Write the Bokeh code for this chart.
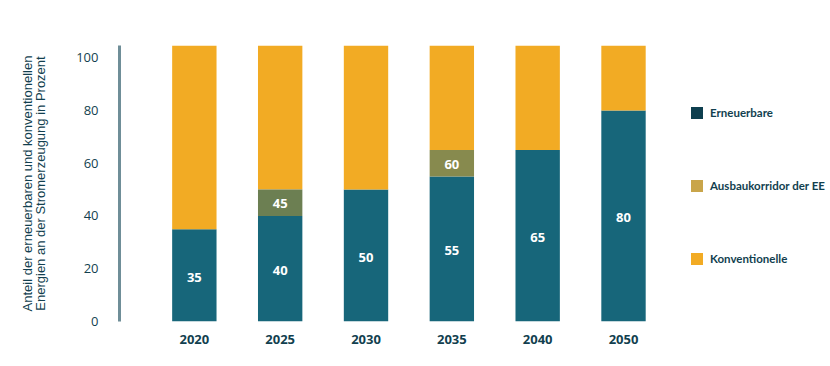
from bokeh.plotting import figure
from bokeh.models import ColumnDataSource, Range1d, FixedTicker, Legend, LegendItem
from bokeh.embed import file_html
from bokeh.resources import INLINE
from bokeh.core.properties import value

# ---- data ----
years = ["2020", "2025", "2030", "2035", "2040", "2050"]
erneuerbare = [35, 40, 50, 55, 65, 80]
korridor_oben = [None, 50, None, 65, None, None]   # upper edge of EE corridor
korridor_label = [None, 45, None, 60, None, None]
bar_top = 104.6                                      # top of drawn bars
y_ticks = [0, 20, 40, 60, 80, 100]
legend_labels = ["Erneuerbare", "Ausbaukorridor der EE", "Konventionelle"]

# ---- styles ----
TEAL = "#17667a"
ORANGE = "#f2ab24"
OLIVE = {"2025": "#6c7f52", "2035": "#878a4e"}
LEG_COLORS = ["#0e3f4f", "#c9a54a", "#f2ab24"]
DARK = "#123f4f"
FONT = "Open Sans"

xs = list(range(len(years)))
konv_bottom = [k if k is not None else e for e, k in zip(erneuerbare, korridor_oben)]

p = figure(width=828, height=364, output_backend="svg", toolbar_location=None,
           x_range=Range1d(-0.872, 7.365), y_range=Range1d(0, bar_top),
           min_border_left=119, min_border_right=2, min_border_top=45,
           min_border_bottom=43)
p.outline_line_color = None
p.background_fill_color = "white"
p.xgrid.visible = False
p.ygrid.visible = False

W = 0.517
teal_src = ColumnDataSource(dict(x=xs, top=erneuerbare))
p.vbar(x="x", bottom=0, top="top", width=W, source=teal_src,
       fill_color=TEAL, line_color=None)

konv_src = ColumnDataSource(dict(x=xs, bottom=konv_bottom, top=[bar_top] * len(xs)))
p.vbar(x="x", bottom="bottom", top="top", width=W, source=konv_src,
       fill_color=ORANGE, line_color=None)

kx, kb, kt, kc = [], [], [], []
for i, (y, e, k) in enumerate(zip(years, erneuerbare, korridor_oben)):
    if k is not None:
        kx.append(i); kb.append(e); kt.append(k); kc.append(OLIVE[y])
korr_src = ColumnDataSource(dict(x=kx, bottom=kb, top=kt, color=kc))
p.vbar(x="x", bottom="bottom", top="top", width=W, source=korr_src,
       fill_color="color", line_color=None)

# value labels
lab_src = ColumnDataSource(dict(x=xs, y=[e / 2 for e in erneuerbare],
                                t=[str(e) for e in erneuerbare]))
p.text(x="x", y="y", text="t", source=lab_src, text_color="white",
       text_font=value(FONT), text_font_size="13px", text_font_style="bold",
       text_align="center", text_baseline="middle", y_offset=2)
klx, kly, klt = [], [], []
for i, (e, k, l) in enumerate(zip(erneuerbare, korridor_oben, korridor_label)):
    if l is not None:
        klx.append(i); kly.append((e + k) / 2); klt.append(str(l))
p.text(x=klx, y=kly, text=klt, text_color="white",
       text_font=value(FONT), text_font_size="13px", text_font_style="bold",
       text_align="center", text_baseline="middle", y_offset=1)

# axes
xa = p.xaxis[0]
xa.ticker = FixedTicker(ticks=xs)
xa.major_label_overrides = {i: y for i, y in enumerate(years)}
xa.axis_line_color = None
xa.major_tick_line_color = None
xa.minor_tick_line_color = None
xa.major_tick_out = 0
xa.major_label_standoff = 13
xa.major_label_text_font = FONT
xa.major_label_text_font_size = "13px"
xa.major_label_text_font_style = "bold"
xa.major_label_text_color = DARK

ya = p.yaxis[0]
ya.ticker = FixedTicker(ticks=y_ticks)
ya.axis_line_color = "#6f8e98"
ya.axis_line_width = 3
ya.major_tick_line_color = None
ya.minor_tick_line_color = None
ya.major_tick_out = 0
ya.major_label_standoff = 21
ya.major_label_text_font = FONT
ya.major_label_text_font_size = "13px"
ya.major_label_text_color = DARK
ya.axis_label = "Anteil der erneuerbaren und konventionellen\nEnergien an der Stromerzeugung in Prozent"
ya.axis_label_text_font = "Liberation Sans"
ya.axis_label_text_font_size = "13px"
ya.axis_label_text_line_height = 0.9
ya.axis_label_text_font_style = "normal"
ya.axis_label_text_color = DARK
ya.axis_label_standoff = 25

# legend
items = []
for lab, col in zip(legend_labels, LEG_COLORS):
    r = p.vbar(x=[float("nan")], top=[float("nan")], width=W,
               fill_color=col, line_color=None)
    items.append(LegendItem(label=lab, renderers=[r]))
leg = Legend(items=items, location=(570, 55), orientation="vertical",
             glyph_width=15, glyph_height=15, label_height=15, spacing=58,
             label_standoff=6, padding=0, margin=0,
             border_line_color=None, background_fill_alpha=0,
             label_text_font="Lato", label_text_font_size="11.5px",
             label_text_font_style="bold", label_text_color=DARK)
p.add_layout(leg, "center")

open("out.html", "w").write(file_html(p, INLINE))
